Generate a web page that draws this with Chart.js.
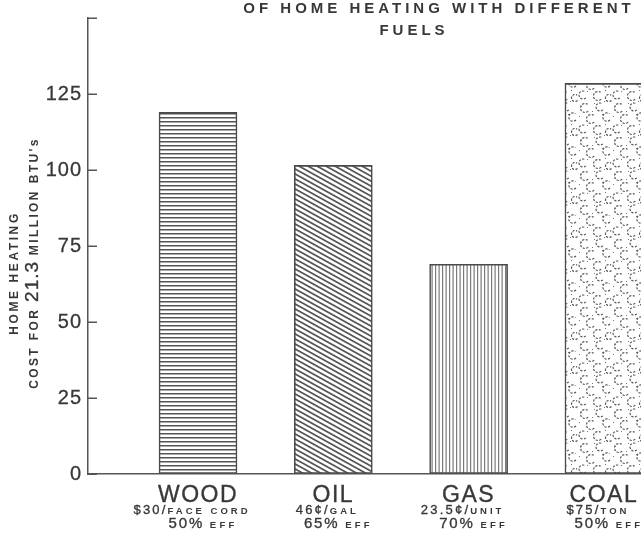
<!DOCTYPE html>
<html><head><meta charset="utf-8">
<script src="https://cdn.jsdelivr.net/npm/chart.js@4"></script>
<style>html,body{margin:0;padding:0;background:#fff;}</style>
</head><body>
<canvas id="c" width="641" height="544"></canvas>
<script>
// ---- data ----
const fuels = ['WOOD', 'OIL', 'GAS', 'COAL'];
const costs = [119, 101.5, 69, 128.5];
const priceAmounts = ['$30/', '46¢/', '23.5¢/', '$75/'];
const priceUnits = ['FACE CORD', 'GAL', 'UNIT', 'TON'];
const efficiencies = [50, 65, 70, 50];
const yTicks = [0, 25, 50, 75, 100, 125, 150];
const yTickLabels = ['0', '25', '50', '75', '100', '125', ''];
const titleLines = ['OF HOME HEATING WITH DIFFERENT', 'FUELS'];
const yTitleLine1 = 'HOME HEATING';
const yTitleLine2 = ['COST FOR ', '21.3', " MILLION BTU's"];

// ---- patterns ----
function mkTile(w, h, draw) {
  const c = document.createElement('canvas'); c.width = w; c.height = h;
  const g = c.getContext('2d'); g.fillStyle = '#fff'; g.fillRect(0, 0, w, h); draw(g, w, h);
  return document.getElementById('c').getContext('2d').createPattern(c, 'repeat');
}
const patHoriz = mkTile(8, 4, (g) => { g.fillStyle = '#555'; g.fillRect(0, 1, 8, 1.5); });
const patDiag = mkTile(9, 5, (g, w, h) => {
  g.strokeStyle = '#555'; g.lineWidth = 1.7;
  for (const dy of [-5, 0, 5]) { g.beginPath(); g.moveTo(-1, dy - 0.55); g.lineTo(w + 1, dy + h + 0.55); g.stroke(); }
});
const patVert = mkTile(7, 8, (g) => { g.fillStyle = '#7a7a7a'; g.fillRect(1, 0, 1.2, 8); g.fillRect(4.5, 0, 1.2, 8); });
const patBubbles = mkTile(34, 34, (g, w, h) => {
  g.strokeStyle = '#5a5a5a'; g.lineWidth = 1.2; g.setLineDash([2.2, 1.4]);
  const arcs = [[7,6,4.5],[22,5,4],[29,15,4.2],[13,17,4.5],[5,27,4],[20,28,4.5],[31,30,3.5]];
  for (const [x, y, r] of arcs) for (const ox of [-w, 0, w]) for (const oy of [-h, 0, h]) {
    g.beginPath(); g.arc(x + ox, y + oy, r, 0.25 * Math.PI, 1.7 * Math.PI); g.stroke();
  }
  g.fillStyle = '#777';
  for (const [x, y] of [[14,9],[1,14],[24,12],[9,23],[27,22],[16,1],[3,4],[26,33]]) g.fillRect(x, y, 1, 1);
});
const barPatterns = [patHoriz, patDiag, patVert, patBubbles];

// ---- helpers ----
const FAM = '"Liberation Sans", Arial, sans-serif';
const TXT = '#383838';
function drawMixed(ctx, segs, x, y, align) {
  let w = 0;
  segs.forEach(s => { ctx.font = s.font; ctx.letterSpacing = s.ls; w += ctx.measureText(s.t).width; });
  let cx = align === 'center' ? x - w / 2 : x;
  ctx.textAlign = 'left';
  ctx.strokeStyle = TXT; ctx.lineWidth = 0.35; ctx.lineJoin = 'round';
  segs.forEach(s => {
    ctx.font = s.font; ctx.letterSpacing = s.ls;
    ctx.fillText(s.t, cx, y);
    if (s.stroke) ctx.strokeText(s.t, cx, y);
    cx += ctx.measureText(s.t).width;
  });
}

const decorPlugin = {
  id: 'decor',
  beforeDraw(chart) { chart.ctx.letterSpacing = '1px'; },
  afterDraw(chart) {
    const ctx = chart.ctx, ys = chart.scales.y, xs = chart.scales.x, ca = chart.chartArea;
    ctx.save();
    // inward y ticks
    ctx.strokeStyle = '#555'; ctx.lineWidth = 1.5;
    yTicks.forEach(v => { const py = Math.round(ys.getPixelForValue(v)) + 0.25; ctx.beginPath(); ctx.moveTo(ca.left, py); ctx.lineTo(ca.left + 9, py); ctx.stroke(); });
    ctx.fillStyle = TXT; ctx.textBaseline = 'alphabetic';
    // title
    drawMixed(ctx, [{ t: titleLines[0], font: 'bold 15px ' + FAM, ls: '4px' }], 439, 13, 'center');
    drawMixed(ctx, [{ t: titleLines[1], font: 'bold 15px ' + FAM, ls: '4px' }], 414, 35, 'center');
    // y-axis title
    ctx.save(); ctx.translate(13, 273); ctx.rotate(-Math.PI / 2);
    drawMixed(ctx, [{ t: yTitleLine1, font: 'bold 12px ' + FAM, ls: '2.6px' }], 0, 5, 'center');
    ctx.restore();
    ctx.save(); ctx.translate(33, 263); ctx.rotate(-Math.PI / 2);
    drawMixed(ctx, [
      { t: yTitleLine2[0], font: 'bold 12px ' + FAM, ls: '2.4px' },
      { t: yTitleLine2[1], font: '19px ' + FAM, ls: '1px', stroke: true },
      { t: yTitleLine2[2], font: 'bold 12px ' + FAM, ls: '2.4px' }], 0, 5, 'center');
    ctx.restore();
    // category labels
    fuels.forEach((f, i) => {
      const cx = xs.getPixelForValue(i + 1);
      drawMixed(ctx, [{ t: f, font: '23px ' + FAM, ls: '1.5px', stroke: true }], cx, 502, 'center');
      drawMixed(ctx, [{ t: priceAmounts[i], font: '13px ' + FAM, ls: '2.2px', stroke: true },
                      { t: priceUnits[i], font: 'bold 9.5px ' + FAM, ls: '3px' }], cx - 6, 514, 'center');
      drawMixed(ctx, [{ t: efficiencies[i] + '%', font: '15px ' + FAM, ls: '1.8px', stroke: true },
                      { t: ' EFF', font: 'bold 9.5px ' + FAM, ls: '3.2px' }], cx + 5, 528, 'center');
    });
    ctx.restore();
    ctx.letterSpacing = '0px';
  }
};

new Chart(document.getElementById('c'), {
  type: 'bar',
  data: {
    datasets: [{
      data: fuels.map((f, i) => ({ x: i + 1, y: costs[i] })),
      backgroundColor: barPatterns,
      borderColor: '#4a4a4a',
      borderWidth: 1.6,
      borderSkipped: false,
      barThickness: 78
    }]
  },
  options: {
    responsive: false,
    animation: false,
    devicePixelRatio: 1,
    layout: { padding: { top: 15, left: 0, right: 0, bottom: 70 } },
    plugins: { legend: { display: false }, tooltip: { enabled: false }, title: { display: false } },
    scales: {
      x: {
        type: 'linear', min: 0.187, max: 4.274, offset: false,
        grid: { display: false, drawTicks: false, offset: false },
        border: { display: true, color: '#555', width: 1.5 },
        ticks: { display: false }
      },
      y: {
        min: 0, max: 150,
        afterBuildTicks: s => { s.ticks = yTicks.map(v => ({ value: v })); },
        afterFit: s => { s.width = 88; },
        ticks: { callback: (v, i) => yTickLabels[i], font: { family: FAM, size: 20 }, color: '#383838', padding: 6,
                 textStrokeColor: '#383838', textStrokeWidth: 0.3 },
        grid: { drawOnChartArea: false, drawTicks: false },
        border: { display: true, color: '#555', width: 1.5 }
      }
    }
  },
  plugins: [decorPlugin]
});
</script>
</body></html>
